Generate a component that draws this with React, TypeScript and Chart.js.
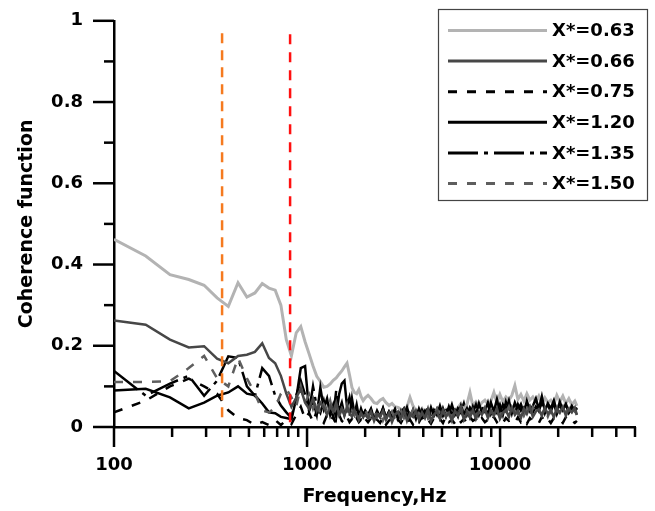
import React, { useEffect, useRef } from "react";
import { Chart, registerables } from "chart.js";

Chart.register(...registerables);

// Frequency bins (Hz): low range then high range
const FREQ = [
  100, 146, 195, 244, 293, 342, 391, 439, 488, 537,
  586, 635, 684, 732, 781, 830, 879, 928, 977, 1025,
  1074, 1123, 1172, 1221, 1270, 1318, 1367, 1416, 1465, 1514,
  1562, 1611, 1660, 1709, 1758, 1807, 1855, 1904, 1953, 2002,
  2070, 2145, 2225, 2305, 2390, 2475, 2565, 2660, 2755, 2855,
  2960, 3065, 3180, 3295, 3415, 3540, 3665, 3800, 3940, 4080,
  4230, 4385, 4545, 4710, 4880, 5060, 5240, 5430, 5630, 5835,
  6050, 6270, 6495, 6735, 6980, 7230, 7495, 7770, 8050, 8345,
  8650, 8965, 9290, 9630, 9980, 10340, 10720, 11110, 11510, 11930,
  12370, 12820, 13280, 13765, 14265, 14785, 15325, 15880, 16460, 17060,
  17680, 18320, 18990, 19680, 20395, 21140, 21910, 22705, 23530, 24390,
  25000,
];

const COH_063 = [
  0.462, 0.421, 0.375, 0.363, 0.349, 0.318, 0.297, 0.355, 0.320, 0.330,
  0.353, 0.342, 0.337, 0.300, 0.215, 0.175, 0.232, 0.247, 0.210, 0.180,
  0.150, 0.125, 0.112, 0.098, 0.100, 0.106, 0.115, 0.121, 0.130, 0.138,
  0.148, 0.157, 0.128, 0.097, 0.085, 0.082, 0.092, 0.075, 0.065, 0.072,
  0.078, 0.070, 0.060, 0.058, 0.066, 0.070, 0.060, 0.053, 0.058, 0.050,
  0.048, 0.044, 0.042, 0.050, 0.073, 0.052, 0.040, 0.034, 0.045, 0.032,
  0.040, 0.030, 0.038, 0.028, 0.036, 0.030, 0.042, 0.030, 0.045, 0.034,
  0.048, 0.058, 0.045, 0.056, 0.085, 0.052, 0.062, 0.050, 0.060, 0.066,
  0.056, 0.064, 0.085, 0.060, 0.080, 0.062, 0.074, 0.066, 0.078, 0.102,
  0.068, 0.080, 0.064, 0.082, 0.066, 0.074, 0.062, 0.076, 0.058, 0.072,
  0.060, 0.066, 0.056, 0.078, 0.062, 0.076, 0.058, 0.070, 0.055, 0.064,
  0.052,
];

const COH_066 = [
  0.262, 0.252, 0.215, 0.196, 0.199, 0.168, 0.157, 0.175, 0.178, 0.185,
  0.206, 0.170, 0.157, 0.126, 0.082, 0.050, 0.072, 0.094, 0.060, 0.045,
  0.070, 0.040, 0.060, 0.048, 0.030, 0.052, 0.038, 0.060, 0.030, 0.045,
  0.028, 0.050, 0.035, 0.025, 0.042, 0.030, 0.020, 0.035, 0.025, 0.030,
  0.022, 0.038, 0.015, 0.032, 0.025, 0.040, 0.018, 0.035, 0.012, 0.030,
  0.038, 0.020, 0.042, 0.015, 0.033, 0.025, 0.040, 0.018, 0.036, 0.022,
  0.045, 0.015, 0.030, 0.038, 0.020, 0.042, 0.025, 0.035, 0.015, 0.040,
  0.028, 0.045, 0.018, 0.036, 0.024, 0.042, 0.020, 0.038, 0.030, 0.045,
  0.022, 0.040, 0.028, 0.046, 0.020, 0.035, 0.042, 0.025, 0.048, 0.030,
  0.040, 0.022, 0.045, 0.032, 0.050, 0.025, 0.038, 0.044, 0.028, 0.048,
  0.032, 0.042, 0.024, 0.046, 0.035, 0.050, 0.028, 0.044, 0.036, 0.048,
  0.030,
];

const COH_075 = [
  0.036, 0.065, 0.100, 0.119, 0.100, 0.082, 0.041, 0.022, 0.017, 0.005,
  0.012, 0.005, 0.017, 0.005, 0.017, 0.007, 0.030, 0.050, 0.020, 0.035,
  0.012, 0.040, 0.020, 0.010, 0.030, 0.015, 0.025, 0.008, 0.030, 0.015,
  0.010, 0.025, 0.012, 0.020, 0.008, 0.022, 0.012, 0.018, 0.008, 0.020,
  0.012, 0.022, 0.008, 0.018, 0.010, 0.024, 0.006, 0.016, 0.020, 0.008,
  0.018, 0.010, 0.024, 0.012, 0.018, 0.006, 0.020, 0.012, 0.025, 0.010,
  0.018, 0.008, 0.022, 0.012, 0.020, 0.010, 0.026, 0.012, 0.018, 0.008,
  0.022, 0.012, 0.020, 0.010, 0.025, 0.015, 0.020, 0.008, 0.022, 0.012,
  0.018, 0.010, 0.025, 0.012, 0.020, 0.010, 0.022, 0.015, 0.018, 0.010,
  0.024, 0.012, 0.020, 0.008, 0.022, 0.014, 0.018, 0.010, 0.025, 0.012,
  0.020, 0.010, 0.022, 0.015, 0.018, 0.010, 0.024, 0.012, 0.016, 0.010,
  0.015,
];

const COH_120 = [
  0.090, 0.094, 0.073, 0.046, 0.060, 0.077, 0.085, 0.100, 0.082, 0.078,
  0.058, 0.036, 0.034, 0.025, 0.022, 0.019, 0.070, 0.145, 0.150, 0.040,
  0.065, 0.030, 0.097, 0.045, 0.070, 0.030, 0.055, 0.025, 0.080, 0.107,
  0.114, 0.050, 0.073, 0.040, 0.030, 0.055, 0.025, 0.045, 0.030, 0.040,
  0.030, 0.045, 0.020, 0.040, 0.025, 0.046, 0.022, 0.038, 0.026, 0.042,
  0.022, 0.040, 0.028, 0.048, 0.024, 0.042, 0.020, 0.045, 0.026, 0.040,
  0.024, 0.048, 0.028, 0.044, 0.022, 0.046, 0.026, 0.050, 0.030, 0.042,
  0.026, 0.052, 0.032, 0.046, 0.024, 0.050, 0.030, 0.058, 0.036, 0.046,
  0.032, 0.060, 0.038, 0.068, 0.034, 0.055, 0.040, 0.065, 0.034, 0.060,
  0.042, 0.056, 0.034, 0.064, 0.040, 0.052, 0.070, 0.044, 0.075, 0.040,
  0.058, 0.045, 0.065, 0.038, 0.062, 0.042, 0.056, 0.036, 0.052, 0.040,
  0.048,
];

const COH_135 = [
  0.138, 0.077, 0.107, 0.126, 0.077, 0.114, 0.174, 0.170, 0.100, 0.077,
  0.145, 0.126, 0.077, 0.053, 0.036, 0.022, 0.077, 0.114, 0.080, 0.040,
  0.100, 0.050, 0.035, 0.065, 0.030, 0.045, 0.025, 0.090, 0.040, 0.060,
  0.030, 0.050, 0.025, 0.070, 0.035, 0.040, 0.020, 0.035, 0.025, 0.038,
  0.025, 0.042, 0.020, 0.036, 0.028, 0.046, 0.022, 0.038, 0.030, 0.044,
  0.020, 0.036, 0.046, 0.025, 0.040, 0.028, 0.046, 0.022, 0.042, 0.030,
  0.048, 0.025, 0.042, 0.030, 0.052, 0.028, 0.046, 0.032, 0.055, 0.030,
  0.046, 0.035, 0.058, 0.030, 0.048, 0.036, 0.055, 0.030, 0.050, 0.038,
  0.060, 0.032, 0.048, 0.035, 0.055, 0.030, 0.062, 0.040, 0.050, 0.034,
  0.056, 0.040, 0.048, 0.032, 0.058, 0.036, 0.050, 0.040, 0.062, 0.034,
  0.054, 0.038, 0.060, 0.032, 0.050, 0.042, 0.056, 0.036, 0.048, 0.040,
  0.045,
];

const COH_150 = [
  0.111, 0.111, 0.113, 0.145, 0.175, 0.120, 0.100, 0.170, 0.120, 0.082,
  0.041, 0.036, 0.048, 0.082, 0.094, 0.073, 0.050, 0.100, 0.060, 0.080,
  0.045, 0.070, 0.030, 0.055, 0.040, 0.065, 0.030, 0.050, 0.025, 0.045,
  0.035, 0.055, 0.025, 0.040, 0.030, 0.045, 0.020, 0.035, 0.028, 0.040,
  0.030, 0.018, 0.036, 0.024, 0.040, 0.016, 0.032, 0.025, 0.038, 0.020,
  0.032, 0.040, 0.022, 0.036, 0.026, 0.042, 0.020, 0.034, 0.025, 0.040,
  0.022, 0.036, 0.030, 0.045, 0.024, 0.038, 0.028, 0.046, 0.022, 0.038,
  0.030, 0.048, 0.026, 0.040, 0.030, 0.046, 0.024, 0.042, 0.032, 0.048,
  0.028, 0.042, 0.030, 0.046, 0.025, 0.044, 0.034, 0.050, 0.028, 0.040,
  0.032, 0.046, 0.028, 0.044, 0.026, 0.048, 0.034, 0.042, 0.030, 0.046,
  0.026, 0.044, 0.032, 0.048, 0.028, 0.042, 0.036, 0.046, 0.030, 0.040,
  0.030,
];

const SERIES_LABELS = ["X*=0.63", "X*=0.66", "X*=0.75", "X*=1.20", "X*=1.35", "X*=1.50"];

// vertical marker lines (frequency, y-extent)
const ORANGE_FREQ = 363;
const ORANGE_Y = [0.024, 0.978];
const RED_FREQ = 817;
const RED_Y = [0.012, 0.971];

const X_TICKS = [
  100, 200, 300, 400, 500, 600, 700, 800, 900,
  1000, 2000, 3000, 4000, 5000, 6000, 7000, 8000, 9000,
  10000, 20000, 30000, 40000, 50000,
];
const X_LABELED = [100, 1000, 10000];
const Y_TICKS = [0, 0.1, 0.2, 0.3, 0.4, 0.5, 0.6, 0.7, 0.8, 0.9, 1];
const Y_LABELED = [0, 0.2, 0.4, 0.6, 0.8, 1];

const FONT = "'DejaVu Sans', 'Liberation Sans', sans-serif";

const pts = (vals: number[]) => FREQ.map((f, i) => ({ x: f, y: vals[i] }));

const tickPlugin = {
  id: "customTicks",
  afterDraw(chart: any) {
    const ctx = chart.ctx;
    const xs = chart.scales.x;
    const ys = chart.scales.y;
    ctx.save();
    ctx.strokeStyle = "#000";
    ctx.lineWidth = 2.5;
    ctx.setLineDash([]);
    for (const v of X_TICKS) {
      const px = xs.getPixelForValue(v);
      const len = X_LABELED.includes(v) ? 20 : 10;
      ctx.beginPath();
      ctx.moveTo(px, ys.bottom);
      ctx.lineTo(px, ys.bottom + len);
      ctx.stroke();
    }
    for (const v of Y_TICKS) {
      const py = ys.getPixelForValue(v);
      const len = Y_LABELED.some((l) => Math.abs(l - v) < 1e-6) ? 21 : 10;
      ctx.beginPath();
      ctx.moveTo(xs.left, py);
      ctx.lineTo(xs.left - len, py);
      ctx.stroke();
    }
    ctx.restore();
  },
};

const legendPlugin = {
  id: "boxLegend",
  afterDraw(chart: any) {
    const ctx = chart.ctx;
    ctx.save();
    const x0 = 438.5, y0 = 9.5, w = 209, h = 191;
    ctx.fillStyle = "#fff";
    ctx.fillRect(x0, y0, w, h);
    ctx.strokeStyle = "#444";
    ctx.lineWidth = 1.2;
    ctx.setLineDash([]);
    ctx.strokeRect(x0, y0, w, h);
    chart.data.datasets.slice(0, 6).forEach((ds: any, i: number) => {
      const y = 30.5 + i * 30.6;
      ctx.strokeStyle = ds.borderColor;
      ctx.lineWidth = 3;
      ctx.setLineDash(ds.borderDash || []);
      ctx.beginPath();
      ctx.moveTo(448, y);
      ctx.lineTo(547, y);
      ctx.stroke();
      ctx.setLineDash([]);
      ctx.fillStyle = "#000";
      ctx.font = `bold 18px ${FONT}`;
      ctx.textBaseline = "middle";
      ctx.textAlign = "left";
      ctx.fillText(ds.label, 552, y + 1);
    });
    ctx.restore();
  },
};

export default function App() {
  const ref = useRef<HTMLCanvasElement>(null);
  useEffect(() => {
    const canvas = ref.current!;
    const styles = [
      { color: "#b3b3b3", dash: [], width: 3 },
      { color: "#474747", dash: [], width: 2.5 },
      { color: "#000000", dash: [9, 10], width: 2.5 },
      { color: "#000000", dash: [], width: 2.5 },
      { color: "#000000", dash: [30, 6, 4, 6], width: 2.5 },
      { color: "#5e5e5e", dash: [9, 10], width: 2.5 },
    ];
    const values = [COH_063, COH_066, COH_075, COH_120, COH_135, COH_150];
    const orders = [6, 1, 3, 5, 4, 2];
    const datasets: any[] = values.map((v, i) => ({
      label: SERIES_LABELS[i],
      data: pts(v),
      borderColor: styles[i].color,
      borderDash: styles[i].dash,
      borderWidth: styles[i].width,
      pointRadius: 0,
      tension: 0,
      fill: false,
      order: orders[i],
    }));
    datasets.push({
      label: "orange",
      data: ORANGE_Y.map((y) => ({ x: ORANGE_FREQ, y })),
      borderColor: "#f57a1f",
      borderDash: [10, 7],
      borderWidth: 2.5,
      pointRadius: 0,
      order: 0,
    });
    datasets.push({
      label: "red",
      data: RED_Y.map((y) => ({ x: RED_FREQ, y })),
      borderColor: "#ff1010",
      borderDash: [10, 8],
      borderWidth: 2.5,
      pointRadius: 0,
      order: 0,
    });

    const chart = new Chart(canvas, {
      type: "line",
      data: { datasets },
      options: {
        responsive: false,
        animation: false,
        devicePixelRatio: 1,
        layout: { padding: { left: 0, right: 20, top: 14, bottom: 0 } },
        plugins: { legend: { display: false }, tooltip: { enabled: false } },
        scales: {
          x: {
            type: "logarithmic",
            min: 100,
            max: 50000,
            afterFit: (s: any) => { s.height = 84; },
            afterBuildTicks: (s: any) => { s.ticks = X_TICKS.map((v) => ({ value: v })); },
            grid: { display: true, drawOnChartArea: false, drawTicks: true, tickLength: 20, color: "rgba(0,0,0,0)" },
            border: { display: true, color: "#000", width: 2.5 },
            ticks: {
              autoSkip: false,
              maxRotation: 0,
              padding: 8,
              color: "#000",
              font: { family: FONT, size: 18, weight: "bold" },
              callback: (v: any) => (X_LABELED.includes(Number(v)) ? String(v) : ""),
            },
            title: {
              display: true,
              text: "Frequency,Hz",
              color: "#000",
              font: { family: FONT, size: 19, weight: "bold" },
              padding: { top: 0, bottom: 2.6 },
            },
          },
          y: {
            type: "linear",
            min: 0,
            max: 1,
            afterFit: (s: any) => { s.width = 114; },
            afterBuildTicks: (s: any) => { s.ticks = Y_TICKS.map((v) => ({ value: v })); },
            grid: { display: true, drawOnChartArea: false, drawTicks: true, tickLength: 21, color: "rgba(0,0,0,0)" },
            border: { display: true, color: "#000", width: 2.5 },
            ticks: {
              autoSkip: false,
              padding: 10,
              color: "#000",
              font: { family: FONT, size: 18, weight: "bold" },
              callback: (v: any) => {
                const n = Number(v);
                return Y_LABELED.some((l) => Math.abs(l - n) < 1e-6) ? String(Math.round(n * 10) / 10) : "";
              },
            },
            title: {
              display: true,
              text: "Coherence function",
              color: "#000",
              font: { family: FONT, size: 19, weight: "bold" },
              padding: { top: 16, bottom: 0 },
            },
          },
        },
      },
      plugins: [tickPlugin, legendPlugin],
    } as any);
    return () => chart.destroy();
  }, []);

  return (
    <div style={{ position: "fixed", left: 0, top: 0, width: 655, height: 511, background: "#fff" }}>
      <canvas ref={ref} width={655} height={511} style={{ display: "block", width: 655, height: 511 }} />
    </div>
  );
}
